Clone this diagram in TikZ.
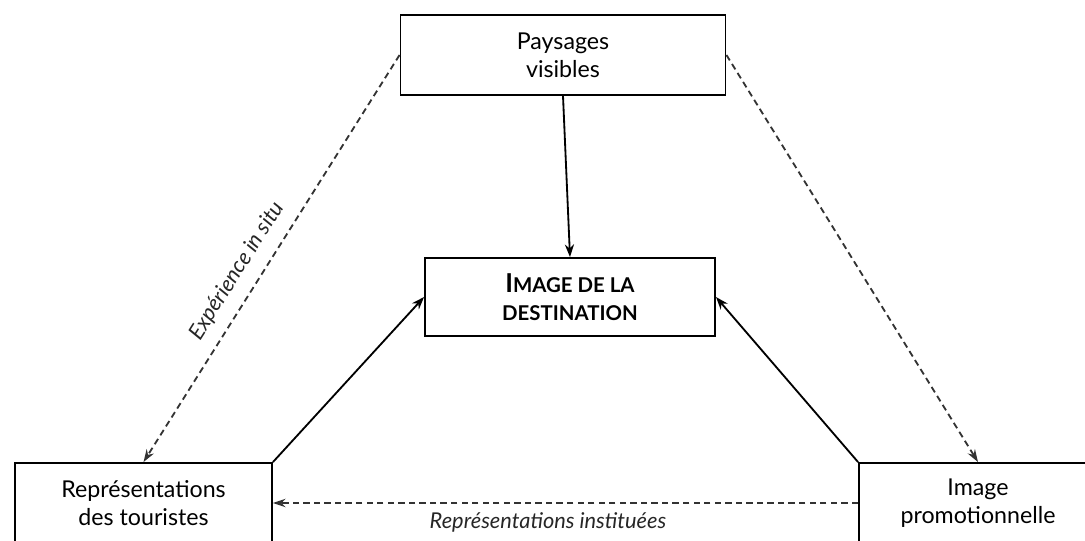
\documentclass[tikz,border=0pt]{standalone}
\usepackage{fontspec}
\setmainfont{Lato}
\usetikzlibrary{arrows.meta, positioning}

% fake small capitals for the central box
\newcommand{\fsc}[2]{{\fontsize{18.5}{20}\selectfont #1}{\fontsize{14.5}{20}\selectfont #2}}

\begin{document}
\begin{tikzpicture}[
    x=0.025cm, y=0.025cm,
    box/.style={rectangle, draw, line width=1.3pt, align=center, font=\fontsize{16.5}{20}\selectfont},
    arrow/.style={-{Stealth[length=9pt, width=6.5pt]}, line width=1.3pt},
    dasharrow/.style={-{Stealth[length=9pt, width=6pt]}, line width=1.3pt, dash pattern=on 4.5pt off 3pt, black!80},
    lbl/.style={font=\fontsize{15.5}{18}\selectfont\itshape, black!85}
]
    \useasboundingbox (0,0) rectangle (1085,-540);

    % Nodes
    \node[box, minimum width=8.125cm, minimum height=2cm] (paysages) at (563,-55) {Paysages\\visibles};
    \node[box, minimum width=7.25cm, minimum height=1.95cm, font=\fontsize{16.5}{20}\selectfont\bfseries] (destination) at (570,-297)
        {\fsc{I}{MAGE DE LA}\\\fsc{}{DESTINATION}};
    \node[box, minimum width=6.425cm, minimum height=2cm] (touristes) at (143.5,-503) {Représentations\\des touristes};
    \node[box, minimum width=5.95cm, minimum height=2cm] (promo) at (978,-503) {Image\\promotionnelle};

    % Arrows
    \draw[arrow] (paysages.south) -- (destination.north);
    \draw[arrow] (touristes.north east) -- (destination.west);
    \draw[arrow] (promo.north west) -- (destination.east);
    \draw[dasharrow] (paysages.west) -- node[lbl, pos=0.56, sloped, above=5pt] {Expérience in situ} (touristes.north);
    \draw[dasharrow] (paysages.east) -- (promo.north);
    \draw[dasharrow] (promo.west) -- node[lbl, pos=0.53, below=3pt] {Représentations instituées} (touristes.east);
\end{tikzpicture}
\end{document}
